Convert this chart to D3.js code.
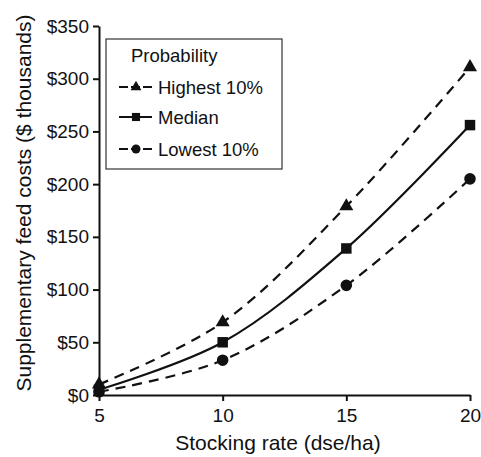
<!DOCTYPE html>
<html><head><meta charset="utf-8">
<script src="https://cdn.jsdelivr.net/npm/d3@7"></script>
<style>body{margin:0;background:#fff}text{font-family:"Liberation Sans",Arial,Helvetica,sans-serif;fill:#111}</style>
</head><body><svg id="c" width="481" height="457"></svg>
<script>
const stockingRates = [5, 10, 15, 20];
const highest10 = [10, 69, 179, 311];
const median = [5, 50, 139, 256];
const lowest10 = [3, 33, 104, 205];
const seriesNames = ["Highest 10%", "Median", "Lowest 10%"];
const xTicks = [5, 10, 15, 20];
const yTicks = [0, 50, 100, 150, 200, 250, 300, 350];

const svg = d3.select("#c");
const x = d3.scaleLinear().domain([5, 20]).range([99, 470]);
const y = d3.scaleLinear().domain([0, 350]).range([395, 26]);
const ink = "#111";

const series = [
  {name: seriesNames[0], vals: highest10, dash: "10,7", sym: d3.symbolTriangle, size: 85},
  {name: seriesNames[1], vals: median, dash: null, sym: d3.symbolSquare, size: 110},
  {name: seriesNames[2], vals: lowest10, dash: "10,7", sym: d3.symbolCircle, size: 105}
];

const line = d3.line().x(d => x(d[0])).y(d => y(d[1])).curve(d3.curveCatmullRom.alpha(0.5));

series.forEach(s => {
  const pts = stockingRates.map((r, i) => [r, s.vals[i]]);
  svg.append("path").attr("d", line(pts)).attr("fill", "none")
    .attr("stroke", ink).attr("stroke-width", 2.2).attr("stroke-dasharray", s.dash);
  svg.selectAll(null).data(pts).enter().append("path")
    .attr("transform", d => `translate(${x(d[0])},${y(d[1])})`)
    .attr("d", d3.symbol().type(s.sym).size(s.size)).attr("fill", ink);
});

// axes
const xAxis = svg.append("g").attr("transform", "translate(0,395)")
  .call(d3.axisBottom(x).tickValues(xTicks).tickSize(6).tickPadding(8).tickSizeOuter(0));
const yAxis = svg.append("g").attr("transform", "translate(99,0)")
  .call(d3.axisLeft(y).tickValues(yTicks).tickFormat(d => "$" + d).tickSize(6).tickPadding(4).tickSizeOuter(0));
[xAxis, yAxis].forEach(g => {
  g.select(".domain").attr("stroke", ink).attr("stroke-width", 2);
  g.selectAll(".tick line").attr("stroke", ink).attr("stroke-width", 2);
  g.selectAll(".tick text").style("font-size", "19px").style("font-family", '"Liberation Sans",Arial,sans-serif').attr("fill", "#222");
});

svg.append("text").attr("x", 278).attr("y", 450).attr("text-anchor", "middle")
  .style("font-size", "21px").text("Stocking rate (dse/ha)");
svg.append("text").attr("transform", "translate(31,203) rotate(-90)").attr("text-anchor", "middle")
  .style("font-size", "21px").text("Supplementary feed costs ($ thousands)");

// legend
const lg = svg.append("g");
lg.append("rect").attr("x", 106).attr("y", 39).attr("width", 176).attr("height", 130)
  .attr("fill", "#fff").attr("stroke", "#333").attr("stroke-width", 1.2);
lg.append("text").attr("x", 131).attr("y", 62).style("font-size", "18.5px").text("Probability");
const ly = [87, 117, 149];
series.forEach((s, i) => {
  lg.append("line").attr("x1", 119).attr("x2", 152).attr("y1", ly[i]).attr("y2", ly[i])
    .attr("stroke", ink).attr("stroke-width", 2.2).attr("stroke-dasharray", s.dash ? "9,3" : null);
  lg.append("path").attr("transform", `translate(136,${ly[i]})`)
    .attr("d", d3.symbol().type(s.sym).size(s.size * 0.6)).attr("fill", ink);
  lg.append("text").attr("x", 158).attr("y", ly[i] + 7).style("font-size", "18.5px").text(s.name);
});
</script></body></html>
